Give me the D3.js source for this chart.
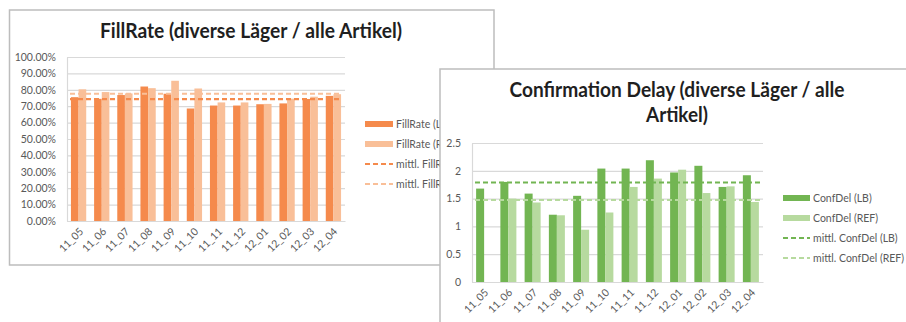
<!DOCTYPE html>
<html>
<head>
<meta charset="utf-8">
<script src="https://cdn.jsdelivr.net/npm/d3@7/dist/d3.min.js"></script>
<style>
  html, body { margin: 0; padding: 0; background: #fff; }
  #wrap { position: relative; width: 906px; height: 322px; overflow: hidden; }
  svg { display: block; font-family: Lato, "Open Sans", "DejaVu Sans", sans-serif; }
  .mlabel {
    position: absolute; width: 60px; height: 14px; line-height: 14px;
    text-align: right; white-space: nowrap;
    font: 10.5px Lato, "Open Sans", sans-serif; color: #595959;
    transform-origin: 100% 50%; transform: rotate(-45deg);
  }
</style>
</head>
<body>
<div id="wrap"><svg id="chart" width="906" height="322"></svg></div>
<script>
// Monthly categories (year_month)
const months = ["11_05", "11_06", "11_07", "11_08", "11_09", "11_10",
                "11_11", "11_12", "12_01", "12_02", "12_03", "12_04"];

// FillRate in percent
const fillRateLB  = [75.5, 74.5, 76.8, 82.0, 77.6, 68.6, 70.4, 70.4, 71.2, 71.7, 74.4, 76.3];
const fillRateREF = [80.3, 78.6, 77.8, 81.0, 85.5, 80.8, 72.3, 72.3, 71.4, 74.6, 75.8, 77.3];
const fillRateMeanLB  = 74.3;
const fillRateMeanREF = 77.6;
const fillRateTicks = [0, 10, 20, 30, 40, 50, 60, 70, 80, 90, 100];
const fillRateLegend = ["FillRate (LB)", "FillRate (REF)", "mittl. FillRate (LB)", "mittl. FillRate (REF)"];

// Confirmation delay
const confDelLB  = [1.68, 1.80, 1.59, 1.21, 1.55, 2.04, 2.04, 2.19, 1.97, 2.09, 1.71, 1.92];
const confDelREF = [null, 1.50, 1.43, 1.20, 0.94, 1.25, 1.71, 1.86, 2.02, 1.60, 1.72, 1.44];
const confDelMeanLB  = 1.79;
const confDelMeanREF = 1.475;
const confDelTicks = [0, 0.5, 1, 1.5, 2, 2.5];
const confDelLegend = ["ConfDel (LB)", "ConfDel (REF)", "mittl. ConfDel (LB)", "mittl. ConfDel (REF)"];

const svg = d3.select("#chart");
const wrap = d3.select("#wrap");
const textColor = "#595959";
const gridColor = "#d9d9d9";

function drawPanel(cfg, id) {
  const g = svg.append("g");

  // chart frame
  g.append("rect")
    .attr("x", cfg.frame.x).attr("y", cfg.frame.y)
    .attr("width", cfg.frame.w).attr("height", cfg.frame.h)
    .attr("fill", "#fff").attr("stroke", "#bdbdbd").attr("stroke-width", 1.5);

  // title lines
  cfg.title.forEach(t => {
    g.append("text")
      .attr("x", cfg.titleX).attr("y", t.y)
      .attr("text-anchor", "middle")
      .attr("font-size", 20).attr("font-weight", 700)
      .attr("fill", "#1f1f1f")
      .attr("textLength", t.len).attr("lengthAdjust", "spacingAndGlyphs")
      .text(t.text);
  });

  const p = cfg.plot;
  const x = d3.scaleBand().domain(months).range([p.x0, p.x1])
    .paddingInner(0.34).paddingOuter(0.17);
  const xs = d3.scaleBand().domain(["LB", "REF"]).range([0, x.bandwidth()]);
  const y = d3.scaleLinear().domain([0, cfg.max]).range([p.y0, p.y1]);

  // y axis with gridlines
  const yAxis = g.append("g")
    .attr("transform", `translate(${p.x0},0)`)
    .call(d3.axisLeft(y).tickValues(cfg.ticks).tickFormat(cfg.fmt)
      .tickSizeInner(-(p.x1 - p.x0)).tickSizeOuter(0).tickPadding(cfg.tickPad));
  yAxis.select(".domain").attr("stroke", gridColor).attr("stroke-width", 1.2);
  yAxis.selectAll(".tick line").attr("stroke", gridColor).attr("stroke-width", 1.2);
  yAxis.selectAll(".tick text")
    .attr("fill", textColor).attr("font-size", 10.5)
    .attr("font-family", "Lato, sans-serif");

  // x axis line
  const xAxis = g.append("g")
    .attr("transform", `translate(0,${p.y0})`)
    .call(d3.axisBottom(x).tickSize(0).tickFormat(""));
  xAxis.select(".domain").attr("stroke", gridColor).attr("stroke-width", 1.2);

  // rotated month labels (right end anchored just below each category centre)
  wrap.selectAll(".mlabel-" + id).data(months).join("div")
    .attr("class", "mlabel mlabel-" + id)
    .style("left", d => (x(d) + x.bandwidth() / 2 + 3 - 60) + "px")
    .style("top", (p.y0 + 9 - 7) + "px")
    .text(d => d);

  // bars
  const rows = months.map((m, i) => ({ m, LB: cfg.lb[i], REF: cfg.ref[i] }));
  const groups = g.append("g").selectAll("g").data(rows).join("g")
    .attr("transform", d => `translate(${x(d.m)},0)`);
  groups.selectAll("rect")
    .data(d => ["LB", "REF"].filter(k => d[k] != null).map(k => ({ k, v: d[k] })))
    .join("rect")
    .attr("x", d => xs(d.k))
    .attr("width", xs.bandwidth())
    .attr("y", d => y(d.v))
    .attr("height", d => y(0) - y(d.v))
    .attr("fill", d => d.k === "LB" ? cfg.colLB : cfg.colREF);

  // mean lines
  [[cfg.meanLB, cfg.colLB, 2.2], [cfg.meanREF, cfg.colREF, 1.8]].forEach(([v, c, w]) => {
    g.append("line")
      .attr("x1", p.x0 + 3).attr("x2", p.x1 - 3)
      .attr("y1", y(v)).attr("y2", y(v))
      .attr("stroke", c).attr("stroke-width", w)
      .attr("stroke-dasharray", "5,3");
  });

  // legend (clipped to the visible part of the panel)
  const L = cfg.legend;
  const clipId = "legclip-" + id;
  svg.append("defs").append("clipPath").attr("id", clipId)
    .append("rect").attr("x", L.x - 2).attr("y", L.y - 12)
    .attr("width", cfg.legendClipW).attr("height", L.dy * 4 + 10);
  const lg = g.append("g").attr("clip-path", `url(#${clipId})`);
  cfg.legendText.forEach((t, i) => {
    const ly = L.y + i * L.dy;
    const col = (i % 2 === 0) ? cfg.colLB : cfg.colREF;
    if (i < 2) {
      lg.append("rect").attr("x", L.x).attr("y", ly - 3)
        .attr("width", L.w).attr("height", 6).attr("fill", col);
    } else {
      lg.append("line").attr("x1", L.x).attr("x2", L.x + L.w)
        .attr("y1", ly).attr("y2", ly)
        .attr("stroke", col).attr("stroke-width", i === 2 ? 2.2 : 1.8)
        .attr("stroke-dasharray", "5,3");
    }
    lg.append("text").attr("x", L.x + L.w + 3).attr("y", ly)
      .attr("dy", "0.35em").attr("font-size", 10.5)
      .attr("fill", textColor).text(t);
  });
}

// FillRate panel (drawn first, partly covered by the second panel)
drawPanel({
  frame: { x: 9.5, y: 10, w: 484.5, h: 255 },
  title: [{ text: "FillRate (diverse Läger / alle Artikel)", y: 38, len: 302 }],
  titleX: 251,
  plot: { x0: 67, x1: 345, y0: 221, y1: 57 },
  max: 100, ticks: fillRateTicks, fmt: d => d3.format(".2f")(d) + "%", tickPad: 11,
  lb: fillRateLB, ref: fillRateREF,
  meanLB: fillRateMeanLB, meanREF: fillRateMeanREF,
  colLB: "#f58a4c", colREF: "#f9bf98",
  legend: { x: 365, y: 124, dy: 20, w: 28 },
  legendClipW: 440 - 363,
  legendText: fillRateLegend
}, "fill");

// Confirmation Delay panel
drawPanel({
  frame: { x: 440, y: 69, w: 480, h: 270 },
  title: [
    { text: "Confirmation Delay (diverse Läger / alle", y: 97, len: 335 },
    { text: "Artikel)", y: 122, len: 62 }
  ],
  titleX: 677,
  plot: { x0: 472, x1: 763, y0: 282, y1: 143 },
  max: 2.5, ticks: confDelTicks, fmt: d => String(d), tickPad: 11,
  lb: confDelLB, ref: confDelREF,
  meanLB: confDelMeanLB, meanREF: confDelMeanREF,
  colLB: "#72b552", colREF: "#b7da9f",
  legend: { x: 783, y: 198, dy: 20, w: 27 },
  legendClipW: 140,
  legendText: confDelLegend
}, "conf");
</script>
</body>
</html>
